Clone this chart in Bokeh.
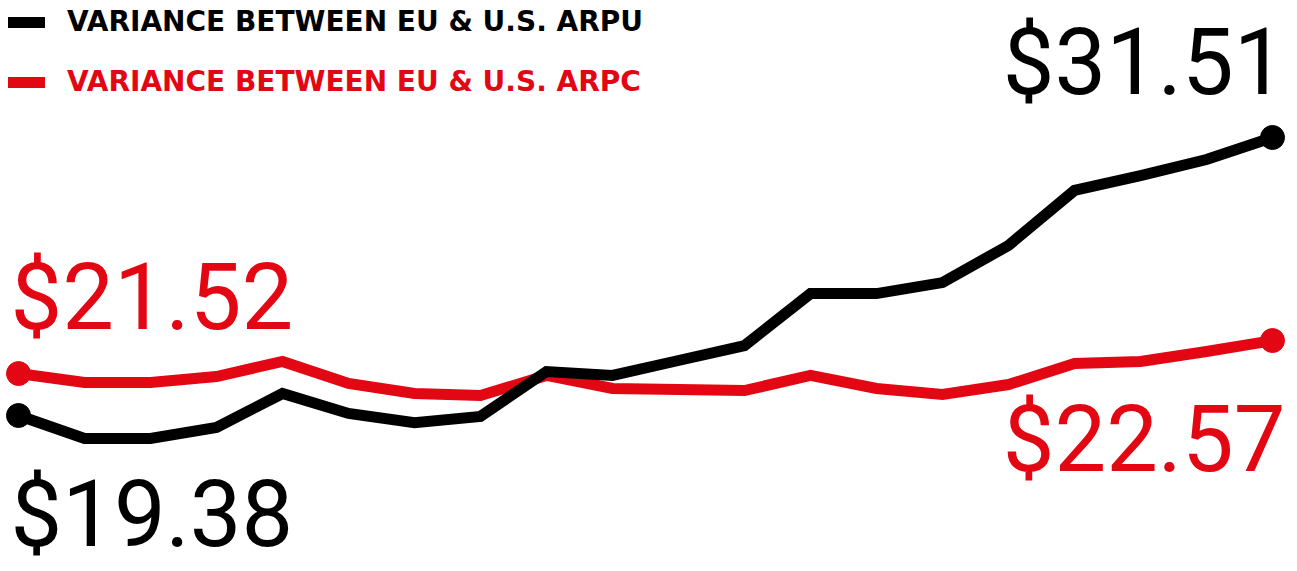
from bokeh.plotting import figure
from bokeh.models import Range1d, Label, Legend, LegendItem, ColumnDataSource
from bokeh.embed import file_html
from bokeh.resources import INLINE

# data (index = period)
periods = list(range(20))
arpu_variance = [19.38, 18.38, 18.38, 18.86, 20.34, 19.47, 19.07, 19.34, 21.30, 21.13,
                 21.78, 22.43, 24.70, 24.70, 25.18, 26.80, 29.20, 29.85, 30.55, 31.51]
arpc_variance = [21.21, 20.82, 20.82, 21.08, 21.74, 20.78, 20.34, 20.25, 21.13, 20.56,
                 20.51, 20.47, 21.13, 20.56, 20.30, 20.73, 21.65, 21.74, 22.17, 22.65]
series_names = ["VARIANCE BETWEEN EU & U.S. ARPU", "VARIANCE BETWEEN EU & U.S. ARPC"]
end_labels_arpu = ["$19.38", "$31.51"]
end_labels_arpc = ["$21.52", "$22.57"]

BLACK = "#000000"
RED = "#e30613"
NUM_FONT = "Roboto"
LEG_FONT = "DejaVu Sans"

W, H = 1297, 571
PX_X = 66.0      # pixels per period
PX_Y = 22.92     # pixels per dollar
x0 = -18 / PX_X
y_top = 19.38 + 415 / PX_Y
p = figure(width=W, height=H, output_backend="svg", toolbar_location=None,
           x_range=Range1d(x0, x0 + W / PX_X), y_range=Range1d(y_top - H / PX_Y, y_top),
           min_border=0, outline_line_color=None)
p.axis.visible = False
p.grid.visible = False
p.background_fill_color = "white"
p.border_fill_color = "white"

src = ColumnDataSource(dict(x=periods, arpu=arpu_variance, arpc=arpc_variance))
l_arpc = p.line("x", "arpc", source=src, line_color=RED, line_width=11, line_join="miter", line_cap="round")
l_arpu = p.line("x", "arpu", source=src, line_color=BLACK, line_width=11, line_join="miter", line_cap="round")

ends = [0, len(periods) - 1]
p.scatter([periods[i] for i in ends], [arpc_variance[i] for i in ends], size=24, color=RED)
p.scatter([periods[i] for i in ends], [arpu_variance[i] for i in ends], size=24, color=BLACK)

leg_common = dict(label_text_font=LEG_FONT, label_text_font_style="bold", label_text_font_size="28px",
                  glyph_width=37, glyph_height=32, label_height=32, label_standoff=22,
                  padding=0, margin=0, border_line_alpha=0, background_fill_alpha=0, spacing=0)
leg1 = Legend(items=[LegendItem(label=series_names[0], renderers=[l_arpu])], location=(8, H - 38),
              label_text_color=BLACK, **leg_common)
leg2 = Legend(items=[LegendItem(label=series_names[1], renderers=[l_arpc])], location=(8, H - 98),
              label_text_color=RED, **leg_common)
p.add_layout(leg1)
p.add_layout(leg2)

num = dict(x_units="screen", y_units="screen", text_font=NUM_FONT, text_font_size="92px",
           text_baseline="alphabetic")
SHIFT = 33
p.add_layout(Label(x=1285, y=H - 95 + SHIFT, text=end_labels_arpu[1], text_align="right", text_color=BLACK, **num))
p.add_layout(Label(x=10, y=H - 547 + SHIFT, text=end_labels_arpu[0], text_align="left", text_color=BLACK, **num))
p.add_layout(Label(x=10, y=H - 330 + SHIFT, text=end_labels_arpc[0], text_align="left", text_color=RED, **num))
p.add_layout(Label(x=1285, y=H - 472 + SHIFT, text=end_labels_arpc[1], text_align="right", text_color=RED, **num))

open("out.html", "w").write(file_html(p, INLINE))
